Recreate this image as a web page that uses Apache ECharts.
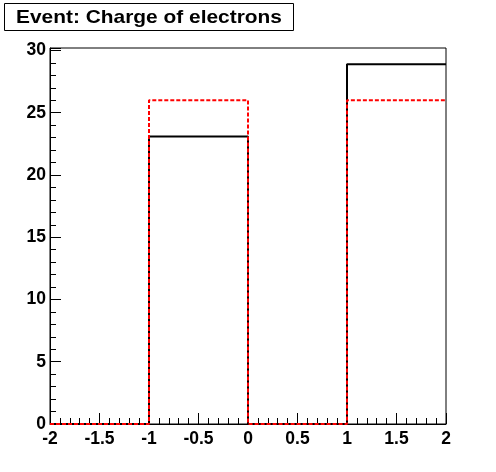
<!DOCTYPE html>
<html>
<head>
<meta charset="utf-8">
<script src="https://cdn.jsdelivr.net/npm/echarts@6/dist/echarts.min.js"></script>
<style>html,body{margin:0;padding:0;background:#fff;}#c{width:496px;height:472px;}</style>
</head>
<body>
<div id="c"></div>
<script>
const binEdges = [-2, -1, 0, 1, 2];
const blackValues = [0, 23.1, 0, 28.9];
const redValues = [0, 26, 0, 26];
const titleText = 'Event: Charge of electrons';

function stepData(edges, vals) {
  const d = [];
  for (let i = 0; i < vals.length; i++) d.push([edges[i], vals[i]]);
  d.push([edges[edges.length - 1], vals[vals.length - 1]]);
  return d;
}

const font = '"Liberation Sans", Arial, sans-serif';
const chart = echarts.init(document.getElementById('c'), null, {renderer: 'canvas'});
chart.setOption({
  animation: false,
  backgroundColor: '#fff',
  grid: {left: 50, top: 48, width: 396, height: 376, show: true, borderColor: '#000', borderWidth: 1, backgroundColor: 'transparent'},
  xAxis: {
    type: 'value', min: -2, max: 2, interval: 0.5,
    axisLine: {show: true, onZero: false, lineStyle: {color: '#000', width: 1}},
    axisTick: {show: true, inside: true, length: 11, lineStyle: {color: '#000'}},
    minorTick: {show: true, splitNumber: 5, length: 6, lineStyle: {color: '#000'}},
    splitLine: {show: false},
    axisLabel: {color: '#000', fontFamily: font, fontWeight: 'bold', fontSize: 17.5, margin: 6}
  },
  yAxis: {
    type: 'value', min: 0, max: 30.2, interval: 5,
    axisLine: {show: true, onZero: false, lineStyle: {color: '#000', width: 1}},
    axisTick: {show: true, inside: true, length: 11, lineStyle: {color: '#000'}},
    minorTick: {show: true, splitNumber: 5, length: 6, lineStyle: {color: '#000'}},
    splitLine: {show: false},
    axisLabel: {color: '#000', fontFamily: font, fontWeight: 'bold', fontSize: 17.5, margin: 4, showMaxLabel: false,
      formatter: v => (Math.abs(v / 5 - Math.round(v / 5)) < 1e-6 ? String(v) : '')}
  },
  series: [
    {type: 'line', step: 'end', data: stepData(binEdges, blackValues), symbol: 'none',
      lineStyle: {color: '#000', width: 2}, z: 2, clip: true},
    {type: 'line', step: 'end', data: stepData(binEdges, redValues), symbol: 'none',
      lineStyle: {color: '#ff0000', width: 2, type: [4, 2]}, z: 3, clip: true}
  ],
  graphic: [
    {type: 'rect', shape: {x: 4.5, y: 3.5, width: 289, height: 27}, style: {fill: '#fff', stroke: '#000', lineWidth: 1}},
    {type: 'text', x: 149, y: 17.5, scaleX: 1.1, style: {text: titleText, font: 'bold 19px ' + font, fill: '#000', align: 'center', verticalAlign: 'middle'}}
  ]
});
</script>
</body>
</html>
